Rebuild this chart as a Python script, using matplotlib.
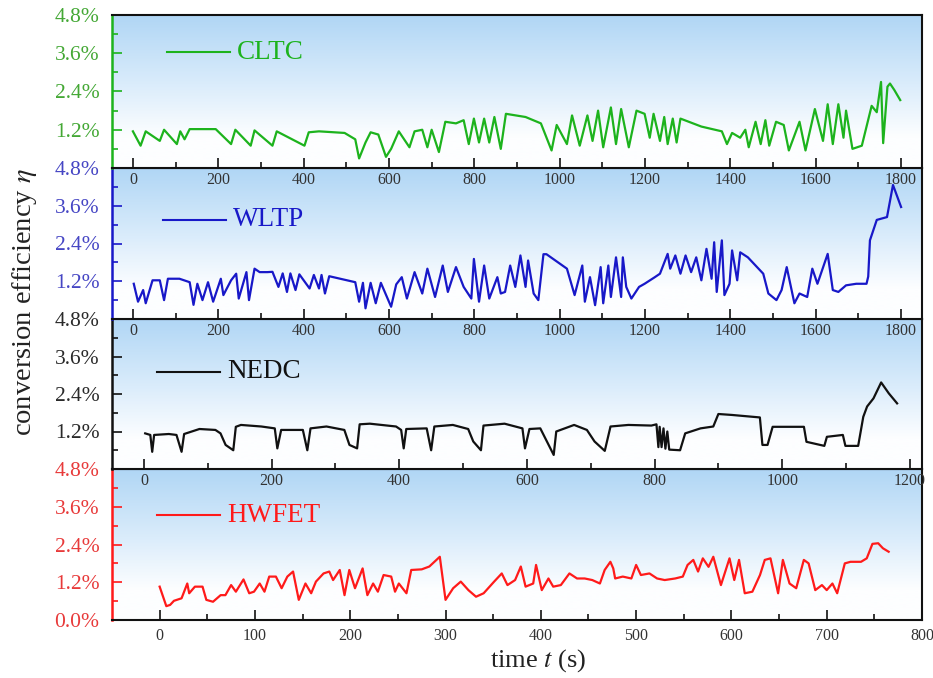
import numpy as np
import matplotlib
matplotlib.use("Agg")
import matplotlib.pyplot as plt
from matplotlib.ticker import MultipleLocator, FixedLocator, FixedFormatter

plt.rcParams["font.family"] = ["Liberation Serif", "DejaVu Serif"]
plt.rcParams["mathtext.fontset"] = "stix"

# ---------------- data (time in s, efficiency in %) ----------------
cltc_t = [0, 18, 30, 63, 73, 103, 111, 121, 133, 194, 230, 240, 276, 285, 327, 337, 402, 412, 436, 496,
          521, 530, 545, 557, 575, 593, 605, 623, 648, 660, 678, 690, 700, 717, 732, 757, 775, 787, 799,
          811, 823, 835, 847, 862, 874, 920, 956, 981, 993, 1017, 1029, 1047, 1065, 1077, 1090, 1102,
          1120, 1132, 1144, 1162, 1180, 1199, 1211, 1220, 1235, 1245, 1253, 1265, 1274, 1283, 1332,
          1380, 1392, 1404, 1423, 1435, 1443, 1459, 1471, 1482, 1491, 1507, 1525, 1537, 1562, 1576,
          1598, 1617, 1628, 1640, 1653, 1665, 1671, 1686, 1708, 1731, 1743, 1753, 1758, 1768, 1774,
          1784, 1798]
cltc_v = [1.15, 0.70, 1.15, 0.85, 1.20, 0.75, 1.15, 0.90, 1.22, 1.22, 0.75, 1.20, 0.70, 1.18, 0.70, 1.15,
          0.70, 1.12, 1.15, 1.10, 0.90, 0.30, 0.80, 1.12, 1.05, 0.35, 0.60, 1.15, 0.65, 1.15, 1.20, 0.65,
          1.20, 0.50, 1.45, 1.40, 1.50, 0.75, 1.55, 0.80, 1.55, 0.80, 1.60, 0.60, 1.70, 1.60, 1.40, 0.55,
          1.35, 0.75, 1.65, 0.70, 1.65, 0.85, 1.80, 0.65, 1.90, 0.75, 1.85, 0.65, 1.80, 1.70, 0.95, 1.70,
          0.85, 1.60, 0.75, 1.55, 0.80, 1.55, 1.30, 1.15, 0.75, 1.10, 0.95, 1.20, 0.65, 1.45, 0.75, 1.50,
          0.70, 1.45, 1.35, 0.55, 1.45, 0.55, 1.85, 0.85, 2.00, 0.75, 2.00, 0.95, 1.80, 0.60, 0.70, 1.95,
          1.75, 2.70, 0.78, 2.55, 2.65, 2.45, 2.13]

wltp_t = [2, 12, 24, 30, 46, 63, 73, 82, 109, 133, 142, 151, 163, 176, 188, 206, 212, 230, 242, 248, 266,
          272, 285, 297, 315, 327, 341, 351, 361, 369, 381, 390, 414, 424, 436, 442, 450, 460, 521, 530,
          539, 545, 557, 569, 581, 605, 617, 630, 642, 660, 678, 690, 708, 726, 738, 757, 775, 793, 799,
          811, 823, 835, 854, 862, 872, 884, 896, 908, 920, 926, 939, 950, 962, 969, 1017, 1035, 1053,
          1059, 1071, 1083, 1096, 1102, 1114, 1120, 1132, 1144, 1148, 1156, 1168, 1186, 1199, 1223, 1235,
          1253, 1259, 1271, 1283, 1295, 1308, 1320, 1332, 1344, 1356, 1362, 1368, 1380, 1386, 1398, 1404,
          1416, 1423, 1441, 1477, 1489, 1508, 1520, 1532, 1550, 1562, 1580, 1592, 1604, 1628, 1640, 1653,
          1671, 1695, 1719, 1723, 1727, 1743, 1767, 1781, 1800]
wltp_v = [1.12, 0.55, 0.92, 0.50, 1.23, 1.23, 0.60, 1.28, 1.28, 1.17, 0.45, 1.12, 0.60, 1.17, 0.55, 1.28,
          0.76, 1.23, 1.44, 0.65, 1.49, 0.60, 1.60, 1.49, 1.49, 1.50, 1.02, 1.45, 0.86, 1.45, 0.92, 1.42,
          0.97, 1.40, 0.97, 1.40, 0.81, 1.36, 1.17, 0.55, 1.15, 0.34, 1.15, 0.50, 1.15, 0.39, 1.10, 1.33,
          0.65, 1.49, 0.81, 1.60, 0.70, 1.70, 0.86, 1.65, 1.02, 0.65, 1.91, 0.55, 1.70, 0.65, 1.33, 0.81,
          0.86, 1.70, 1.02, 2.02, 1.02, 1.86, 0.81, 0.60, 2.06, 2.06, 1.60, 0.76, 1.70, 0.55, 1.33, 0.44,
          1.65, 0.50, 1.70, 0.70, 1.96, 0.70, 1.96, 1.02, 0.65, 1.02, 1.12, 1.33, 1.44, 2.07, 1.60, 2.02,
          1.44, 2.02, 1.49, 1.96, 1.23, 2.23, 1.28, 2.44, 0.86, 2.50, 0.76, 1.12, 2.18, 1.23, 2.12, 1.96,
          1.44, 0.81, 0.60, 0.92, 1.65, 0.50, 0.81, 0.70, 1.60, 1.12, 2.07, 0.92, 0.86, 1.07, 1.12, 1.12,
          1.35, 2.50, 3.15, 3.24, 4.26, 3.56]

nedc_t = [2, 10, 13, 16, 39, 51, 59, 63, 87, 112, 120, 128, 140, 144, 152, 184, 205, 209, 215, 249, 256,
          261, 286, 314, 322, 334, 338, 354, 395, 403, 407, 411, 443, 450, 455, 484, 508, 516, 528, 532,
          565, 593, 597, 604, 621, 642, 646, 674, 694, 706, 722, 731, 759, 795, 803, 806, 808, 811, 814,
          817, 820, 823, 840, 848, 872, 892, 900, 921, 965, 969, 977, 985, 1034, 1038, 1066, 1070, 1095,
          1099, 1119, 1127, 1133, 1143, 1155, 1167, 1180]
nedc_v = [1.14, 1.09, 0.55, 1.09, 1.12, 1.09, 0.55, 1.12, 1.28, 1.25, 1.14, 0.77, 0.60, 1.35, 1.41, 1.36,
          1.30, 0.66, 1.25, 1.25, 0.60, 1.30, 1.36, 1.25, 0.77, 0.66, 1.43, 1.45, 1.36, 1.25, 0.66, 1.28,
          1.30, 0.60, 1.36, 1.41, 1.28, 0.88, 0.60, 1.39, 1.45, 1.30, 0.66, 1.28, 1.30, 0.45, 1.20, 1.41,
          1.25, 0.88, 0.58, 1.36, 1.41, 1.39, 1.43, 0.70, 1.35, 0.70, 1.30, 0.65, 1.20, 0.62, 0.60, 1.14,
          1.30, 1.36, 1.76, 1.73, 1.65, 0.77, 0.77, 1.35, 1.35, 0.87, 0.74, 1.03, 1.09, 0.74, 0.74, 1.67,
          2.00, 2.26, 2.77, 2.42, 2.10]

hwfet_t = [0, 7, 11, 15, 23, 29, 31, 37, 45, 49, 56, 64, 69, 75, 80, 88, 94, 99, 105, 110, 115, 122, 128,
           134, 140, 146, 153, 159, 164, 172, 178, 182, 189, 194, 199, 205, 213, 218, 224, 229, 235, 243,
           247, 251, 259, 264, 275, 283, 294, 300, 308, 316, 324, 332, 340, 351, 359, 365, 373, 379, 384,
           392, 395, 401, 408, 413, 421, 430, 438, 446, 454, 462, 467, 473, 476, 478, 486, 495, 500, 505,
           514, 522, 530, 541, 549, 554, 560, 565, 570, 576, 581, 589, 598, 603, 608, 614, 622, 630, 635,
           641, 649, 654, 661, 668, 676, 681, 688, 695, 700, 706, 711, 719, 725, 736, 742, 748, 754, 759,
           765]
hwfet_v = [1.06, 0.44, 0.48, 0.61, 0.69, 1.16, 0.85, 1.06, 1.06, 0.64, 0.58, 0.79, 0.79, 1.11, 0.90, 1.29,
           0.85, 0.90, 1.16, 0.90, 1.38, 1.38, 1.01, 1.38, 1.54, 0.64, 1.16, 0.85, 1.22, 1.48, 1.54, 1.27,
           1.59, 0.79, 1.59, 1.01, 1.64, 0.79, 1.16, 0.90, 1.43, 1.38, 0.90, 1.16, 0.85, 1.59, 1.61, 1.70,
           2.01, 0.64, 1.01, 1.22, 0.95, 0.74, 0.85, 1.22, 1.48, 1.11, 1.27, 1.70, 1.06, 1.16, 1.75, 0.95,
           1.32, 1.06, 1.11, 1.48, 1.32, 1.32, 1.27, 1.16, 1.59, 1.85, 1.64, 1.32, 1.38, 1.32, 1.75, 1.43,
           1.48, 1.32, 1.27, 1.32, 1.38, 1.75, 1.91, 1.54, 1.96, 1.69, 2.01, 1.11, 1.96, 1.27, 1.91, 0.85,
           0.90, 1.43, 1.91, 1.96, 0.85, 1.91, 1.16, 1.01, 1.91, 1.80, 0.95, 1.11, 0.95, 1.16, 0.85, 1.80,
           1.85, 1.85, 1.96, 2.42, 2.44, 2.28, 2.17]

names = ["CLTC", "WLTP", "NEDC", "HWFET"]
colors = ["#1db31d", "#1818c8", "#111111", "#ff1a1a"]
label_colors = ["#44a835", "#4646c4", "#2a2a2a", "#e83a3a"]
y_ticks = [0.0, 1.2, 2.4, 3.6, 4.8]
x_major = [200, 200, 200, 100]
x_minor = [100, 100, 100, 50]
x_limits = [(-49, 1849), (-49, 1849), (-50, 1219), (-50, 800)]
x_tick_max = [1800, 1800, 1200, 800]
series_t = [cltc_t, wltp_t, nedc_t, hwfet_t]
series_v = [cltc_v, wltp_v, nedc_v, hwfet_v]

# ---------------- figure ----------------
fig = plt.figure(figsize=(9.33, 6.78), dpi=100)
W, H = 933.0, 678.0
left_px, right_px = 112, 922
bounds_px = [(15, 168), (168, 319), (319, 469), (469, 620)]
legend_y = [0.755, 0.656, 0.650, 0.695]
legend_text_x = [237, 233, 227, 227]

top_col = np.array([176, 214, 245]) / 255.0
mid_col = np.array([218, 236, 251]) / 255.0
bot_col = np.array([253, 254, 255]) / 255.0
img = np.zeros((256, 1, 3))
for i, g in enumerate(np.linspace(0, 1, 256)):
    if g < 0.45:
        c = top_col + (mid_col - top_col) * (g / 0.45)
    else:
        c = mid_col + (bot_col - mid_col) * min(1.0, (g - 0.45) / 0.35)
    img[i, 0] = c

for k in range(4):
    top, bot = bounds_px[k]
    ax = fig.add_axes([left_px / W, 1 - bot / H, (right_px - left_px) / W, (bot - top) / H])
    ax.set_zorder(10 - k)
    ax.imshow(img, extent=[0, 1, 0, 1], transform=ax.transAxes, aspect="auto",
              zorder=0, interpolation="bilinear")
    ax.plot(series_t[k], series_v[k], color=colors[k], lw=1.6, zorder=3)
    ax.set_xlim(*x_limits[k])
    ax.set_ylim(0, 4.8)

    # y axis
    ax.yaxis.set_major_locator(FixedLocator(y_ticks))
    ylabels = [f"{v:.1f}%" for v in y_ticks]
    if k < 3:
        ylabels[0] = ""
    ax.yaxis.set_major_formatter(FixedFormatter(ylabels))
    ax.yaxis.set_minor_locator(MultipleLocator(0.6))
    ax.tick_params(axis="y", which="both", direction="in", left=True, right=False,
                   colors=colors[k], labelcolor=label_colors[k], labelsize=15.5, width=1.2)
    ax.tick_params(axis="y", which="major", length=7, pad=9)
    ax.tick_params(axis="y", which="minor", length=4)

    # x axis
    ax.xaxis.set_major_locator(FixedLocator(np.arange(0, x_tick_max[k] + 1, x_major[k])))
    ax.xaxis.set_minor_locator(FixedLocator(np.arange(0, x_tick_max[k] + 1, x_minor[k])))
    ax.tick_params(axis="x", which="both", direction="in", bottom=True, top=False,
                   colors="#111111", labelcolor="#333333", labelsize=11.5, width=1.2)
    ax.tick_params(axis="x", which="major", length=7, pad=3 if k < 3 else 6)
    ax.tick_params(axis="x", which="minor", length=4)

    for side in ["top", "right", "bottom"]:
        ax.spines[side].set_color("#111111")
        ax.spines[side].set_linewidth(1.5)
    ax.spines["left"].set_color(colors[k])
    ax.spines["left"].set_linewidth(1.8)

    # legend entry (line sample + label)
    x0 = (legend_text_x[k] - 70 - left_px) / (right_px - left_px)
    x1 = (legend_text_x[k] - 7 - left_px) / (right_px - left_px)
    ax.plot([x0, x1], [legend_y[k], legend_y[k]], color=colors[k], lw=1.5,
            transform=ax.transAxes, zorder=4)
    ax.text((legend_text_x[k] - left_px) / (right_px - left_px), legend_y[k], names[k],
            color=colors[k], fontsize=19.5, va="center", ha="left", transform=ax.transAxes, zorder=4)

fig.text(25 / W, 1 - 302 / H, "conversion efficiency $\\eta$", rotation=90,
         fontsize=20.5, va="center", ha="center", color="#222222")
fig.text(538 / W, 1 - 667 / H, "time $t$ (s)", fontsize=19, va="baseline", ha="center",
         color="#222222")

fig.savefig("out.png", dpi=100)
